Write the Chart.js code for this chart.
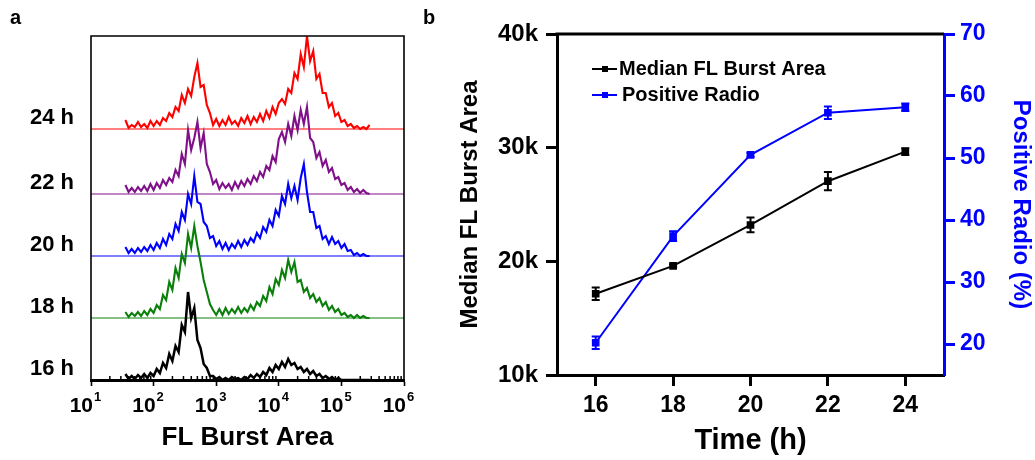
<!DOCTYPE html>
<html>
<head>
<meta charset="utf-8">
<script src="https://cdn.jsdelivr.net/npm/chart.js@4.4.1/dist/chart.umd.min.js"></script>
<style>
  html, body { margin: 0; padding: 0; background: #fff; }
  #wrap { position: relative; width: 1035px; height: 460px; overflow: hidden; }
  #histo { position: absolute; left: 0; top: 0; }
  #trend { position: absolute; left: 420px; top: 0; }
  .tag { position: absolute; font: bold 20px "Liberation Sans", Arial, sans-serif; color: #000; }
</style>
</head>
<body>
<div id="wrap">
  <canvas id="histo" width="420" height="460"></canvas>
  <canvas id="trend" width="615" height="460"></canvas>
  <div class="tag" style="left:10px;top:6px">a</div>
  <div class="tag" style="left:423px;top:6px">b</div>
</div>
<script>
// ---- panel a: FL burst area histograms (x = log10 of burst area) ----
const timeLabels = ['16 h', '18 h', '20 h', '22 h', '24 h'];
const histColors = ['#000000', '#0a800a', '#0000ff', '#80108a', '#ff0000'];
const baseOffset = [0, 62, 124, 186, 251];
const decadeTicks = [1, 2, 3, 4, 5, 6];

const binExp = [1.55, 1.6, 1.65, 1.7, 1.75, 1.8, 1.85, 1.9, 1.95, 2,
  2.05, 2.1, 2.15, 2.2, 2.25, 2.3, 2.35, 2.4, 2.45, 2.5,
  2.55, 2.6, 2.65, 2.7, 2.75, 2.8, 2.85, 2.9, 2.95, 3,
  3.05, 3.1, 3.15, 3.2, 3.25, 3.3, 3.35, 3.4, 3.45, 3.5,
  3.55, 3.6, 3.65, 3.7, 3.75, 3.8, 3.85, 3.9, 3.95, 4,
  4.05, 4.1, 4.15, 4.2, 4.25, 4.3, 4.35, 4.4, 4.45, 4.5,
  4.55, 4.6, 4.65, 4.7, 4.75, 4.8, 4.85, 4.9, 4.95, 5,
  5.05, 5.1, 5.15, 5.2, 5.25, 5.3, 5.35, 5.4, 5.45];

const h16 = [6, 1, 4, 1, 5, 2, 6, 2, 7, 4,
  11, 7, 17, 12, 26, 19, 34, 28, 55, 48,
  88, 62, 72, 40, 32, 16, 12, 4, 4, 1,
  3, 0, 2, 0, 3, 1, 2, 0, 3, 1,
  5, 2, 6, 3, 8, 5, 12, 8, 15, 11,
  18, 13, 21, 15, 17, 11, 13, 8, 11, 6,
  9, 4, 6, 2, 4, 1, 3, 0, 2, 0,
  0, 0, 0, 0, 0, 0, 0, 0, 0];
const h18 = [6, 1, 5, 2, 6, 2, 7, 3, 9, 5,
  13, 9, 23, 18, 36, 28, 50, 40, 64, 55,
  84, 70, 92, 72, 56, 38, 26, 14, 8, 3,
  9, 3, 10, 4, 9, 5, 11, 5, 10, 6,
  13, 8, 16, 12, 22, 17, 31, 24, 39, 33,
  48, 40, 58, 46, 56, 36, 38, 26, 30, 20,
  24, 16, 20, 12, 16, 8, 12, 6, 9, 3,
  5, 1, 3, 0, 3, 0, 2, 0, 0];
const h20 = [9, 3, 7, 3, 8, 4, 9, 5, 11, 6,
  13, 8, 17, 11, 22, 17, 32, 25, 44, 36,
  62, 52, 80, 54, 52, 34, 30, 18, 20, 10,
  15, 7, 13, 6, 12, 8, 15, 9, 16, 11,
  18, 14, 23, 18, 29, 24, 36, 30, 46, 40,
  60, 52, 72, 58, 70, 56, 78, 92, 64, 44,
  44, 28, 30, 17, 20, 12, 19, 12, 15, 8,
  12, 5, 6, 1, 3, 0, 2, 0, 0];
const h22 = [9, 2, 6, 2, 7, 3, 8, 3, 10, 4,
  11, 6, 14, 9, 16, 12, 24, 18, 40, 30,
  64, 44, 56, 72, 46, 61, 30, 22, 10, 14,
  5, 11, 6, 10, 4, 12, 6, 13, 8, 15,
  10, 18, 13, 22, 17, 28, 24, 38, 32, 55,
  62, 52, 70, 58, 78, 64, 84, 70, 87, 56,
  52, 36, 42, 28, 34, 22, 26, 15, 17, 9,
  11, 4, 7, 2, 5, 1, 4, 1, 0];
const h24 = [9, 1, 4, 2, 7, 2, 5, 1, 8, 3,
  8, 4, 11, 8, 16, 12, 22, 18, 34, 26,
  40, 33, 52, 66, 42, 44, 24, 16, 4, 10,
  3, 9, 4, 12, 5, 8, 3, 11, 6, 13,
  5, 12, 7, 15, 8, 18, 11, 22, 15, 26,
  30, 25, 40, 36, 56, 50, 75, 62, 93, 68,
  78, 50, 55, 36, 36, 22, 26, 13, 16, 7,
  9, 3, 5, 1, 3, 0, 2, 0, 4];

// ---- panel b: median burst area and positive ratio vs time ----
const hours = [16, 18, 20, 22, 24];
const medianArea = [17150, 19600, 23200, 27050, 29650];
const medianErr = [550, 120, 650, 800, 300];
const positiveRatio = [20.2, 37.4, 50.5, 57.3, 58.2];
const ratioErr = [1.0, 0.8, 0.3, 1.0, 0.6];
const leftTicks = [10000, 20000, 30000, 40000];
const rightTicks = [20, 30, 40, 50, 60, 70];

Chart.defaults.font.family = '"Liberation Sans", Arial, Helvetica, sans-serif';
Chart.defaults.font.weight = 'bold';
Chart.defaults.color = '#000';

const FONT = '"Liberation Sans", Arial, sans-serif';

// frame, minor log ticks, 10^n labels and time labels for panel a
const histDecor = {
  id: 'histDecor',
  afterDraw(chart) {
    const { ctx, chartArea: a, scales: { x, y } } = chart;
    ctx.save();
    ctx.strokeStyle = '#000';
    ctx.lineWidth = 1.6;
    ctx.beginPath();
    ctx.moveTo(a.left, a.bottom);
    ctx.lineTo(a.left, a.top);
    ctx.lineTo(a.right, a.top);
    ctx.lineTo(a.right, a.bottom);
    ctx.stroke();

    ctx.beginPath();
    ctx.lineWidth = 1.5;
    for (let d = 1; d < 6; d++) {
      for (let k = 2; k < 10; k++) {
        const px = x.getPixelForValue(d + Math.log10(k));
        ctx.moveTo(px, a.bottom);
        ctx.lineTo(px, a.bottom - 4);
      }
    }
    ctx.stroke();

    ctx.fillStyle = '#000';
    ctx.textBaseline = 'alphabetic';
    x.ticks.forEach(t => {
      const px = x.getPixelForValue(t.value);
      ctx.font = 'bold 21px ' + FONT;
      ctx.textAlign = 'right';
      ctx.fillText('10', px + 2, a.bottom + 32);
      ctx.font = 'bold 13px ' + FONT;
      ctx.textAlign = 'left';
      ctx.fillText(String(t.value), px + 3, a.bottom + 21);
    });

    ctx.font = 'bold 22px ' + FONT;
    ctx.textAlign = 'right';
    ctx.textBaseline = 'middle';
    timeLabels.forEach((t, k) => {
      ctx.fillText(t, a.left - 17, y.getPixelForValue(baseOffset[k]) - 11);
    });
    ctx.restore();
  }
};

const histSets = [h16, h18, h20, h22, h24];
const histDatasets = timeLabels.map((t, k) => ({
  label: t,
  data: binExp.map((e, i) => ({ x: e, y: histSets[k][i] + baseOffset[k] })),
  borderColor: histColors[k],
  borderWidth: k === 0 ? 2.5 : 2.1,
  pointRadius: 0,
  tension: 0
}));
const baseDatasets = timeLabels.map((t, k) => ({
  label: t + ' baseline',
  data: [{ x: 1, y: baseOffset[k] }, { x: 6, y: baseOffset[k] }],
  borderColor: histColors[k],
  borderWidth: 1,
  pointRadius: 0
}));

new Chart(document.getElementById('histo'), {
  type: 'line',
  data: { datasets: histDatasets.concat(baseDatasets) },
  options: {
    responsive: false,
    animation: false,
    layout: { padding: { left: 91, right: 16, top: 36, bottom: 0 } },
    plugins: { legend: { display: false }, tooltip: { enabled: false } },
    scales: {
      x: {
        type: 'linear',
        min: 1,
        max: 6,
        afterBuildTicks: s => { s.ticks = decadeTicks.map(v => ({ value: v })); },
        afterFit: s => { s.height = 80; },
        ticks: { display: false },
        grid: { drawOnChartArea: false, drawTicks: true, tickLength: 6, tickWidth: 1.6, tickColor: '#000' },
        border: { display: true, color: '#000', width: 3 },
        title: {
          display: true,
          text: 'FL Burst Area',
          font: { size: 26, weight: 'bold' },
          padding: { top: 0, bottom: 7 }
        }
      },
      y: { type: 'linear', min: 0, max: 344, display: false }
    }
  },
  plugins: [histDecor]
});

// ---- panel b ----
const errorBars = {
  id: 'errorBars',
  afterDatasetsDraw(chart) {
    const { ctx } = chart;
    chart.data.datasets.forEach((ds, i) => {
      const meta = chart.getDatasetMeta(i);
      const ys = chart.scales[ds.yAxisID];
      ctx.save();
      ctx.strokeStyle = ds.borderColor;
      ctx.lineWidth = 2;
      ctx.beginPath();
      meta.data.forEach((pt, j) => {
        const v = ds.data[j].y, e = ds.errors[j];
        const top = ys.getPixelForValue(v + e), bot = ys.getPixelForValue(v - e);
        ctx.moveTo(pt.x, top); ctx.lineTo(pt.x, bot);
        ctx.moveTo(pt.x - 4, top); ctx.lineTo(pt.x + 4, top);
        ctx.moveTo(pt.x - 4, bot); ctx.lineTo(pt.x + 4, bot);
      });
      ctx.stroke();
      ctx.restore();
    });
  }
};

const trendDecor = {
  id: 'trendDecor',
  afterDraw(chart) {
    const { ctx, chartArea: a } = chart;
    ctx.save();
    // top frame line
    ctx.strokeStyle = '#000';
    ctx.lineWidth = 3;
    ctx.beginPath();
    ctx.moveTo(a.left - 1.5, a.top);
    ctx.lineTo(a.right, a.top);
    ctx.stroke();
    // legend inside the plot
    chart.data.datasets.forEach((ds, i) => {
      const y = a.top + 35 + i * 26;
      const x0 = a.left + 35;
      ctx.strokeStyle = ds.borderColor;
      ctx.fillStyle = ds.borderColor;
      ctx.lineWidth = 2;
      ctx.beginPath();
      ctx.moveTo(x0, y);
      ctx.lineTo(x0 + 25, y);
      ctx.stroke();
      ctx.fillRect(x0 + 10, y - 3, 6, 6);
      ctx.fillStyle = '#000';
      ctx.font = 'bold 20px ' + FONT;
      ctx.textAlign = 'left';
      ctx.textBaseline = 'middle';
      ctx.fillText(ds.label, x0 + 27 + i * 3, y);
    });
    ctx.restore();
  }
};

new Chart(document.getElementById('trend'), {
  type: 'line',
  data: {
    datasets: [
      {
        label: 'Median FL Burst Area',
        data: hours.map((h, i) => ({ x: h, y: medianArea[i] })),
        errors: medianErr,
        yAxisID: 'y',
        borderColor: '#000000',
        backgroundColor: '#000000',
        borderWidth: 2,
        pointStyle: 'rect',
        pointRadius: 4,
        tension: 0
      },
      {
        label: 'Positive Radio',
        data: hours.map((h, i) => ({ x: h, y: positiveRatio[i] })),
        errors: ratioErr,
        yAxisID: 'y1',
        borderColor: '#0000ff',
        backgroundColor: '#0000ff',
        borderWidth: 2,
        pointStyle: 'rect',
        pointRadius: 4,
        tension: 0
      }
    ]
  },
  options: {
    responsive: false,
    animation: false,
    layout: { padding: { left: 0, right: 0, top: 34, bottom: 0 } },
    plugins: { legend: { display: false }, tooltip: { enabled: false } },
    scales: {
      x: {
        type: 'linear',
        min: 15,
        max: 25,
        afterBuildTicks: s => { s.ticks = hours.map(v => ({ value: v })); },
        afterFit: s => { s.height = 85; },
        ticks: { font: { size: 23, weight: 'bold' }, color: '#000', padding: 6 },
        grid: { drawOnChartArea: false, drawTicks: true, tickLength: 11, tickWidth: 3, tickColor: '#000' },
        border: { display: true, color: '#000', width: 3 },
        title: {
          display: true,
          text: 'Time (h)',
          font: { size: 29, weight: 'bold' },
          padding: { top: 0, bottom: 2 }
        }
      },
      y: {
        type: 'linear',
        position: 'left',
        min: 10000,
        max: 40000,
        afterBuildTicks: s => { s.ticks = leftTicks.map(v => ({ value: v })); },
        afterFit: s => { s.width = 137; },
        ticks: { font: { size: 24, weight: 'bold' }, color: '#000', padding: 8, callback: v => (v / 1000) + 'k' },
        grid: { drawOnChartArea: false, drawTicks: true, tickLength: 11, tickWidth: 3, tickColor: '#000' },
        border: { display: true, color: '#000', width: 3 },
        title: {
          display: true,
          text: 'Median FL Burst Area',
          font: { size: 24, weight: 'bold' },
          padding: { top: 36 }
        }
      },
      y1: {
        type: 'linear',
        position: 'right',
        min: 15,
        max: 70,
        afterBuildTicks: s => { s.ticks = rightTicks.map(v => ({ value: v })); },
        afterFit: s => { s.width = 91; },
        ticks: { font: { size: 23, weight: 'bold' }, color: '#0000ff', padding: 5 },
        grid: { drawOnChartArea: false, drawTicks: true, tickLength: 11, tickWidth: 3, tickColor: '#0000ff' },
        border: { display: true, color: '#0000ff', width: 3 },
        title: {
          display: true,
          text: 'Positive Radio (%)',
          color: '#0000ff',
          font: { size: 24, weight: 'bold' },
          padding: { top: 0 }
        }
      }
    }
  },
  plugins: [errorBars, trendDecor]
});
</script>
</body>
</html>
